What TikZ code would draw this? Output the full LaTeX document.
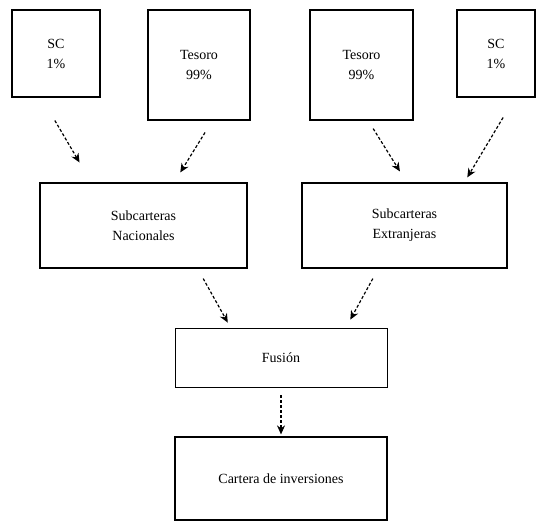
\documentclass[tikz,border=0pt]{standalone}
\usepackage{fontspec}
\setmainfont{Liberation Serif}
\usetikzlibrary{arrows.meta,calc}
\tikzset{
  caja/.style={draw, line width=1.2pt, align=center, inner sep=0pt, font=\fontsize{14}{20}\selectfont},
  flecha/.style={line width=1.2pt, densely dashed, -{Stealth[length=9pt,width=8pt]}}
}
\begin{document}
\begin{tikzpicture}[x=1pt,y=-1pt]
    \useasboundingbox (0,0) rectangle (540,521);
    % entradas
    \node [caja, minimum width=88pt, minimum height=87pt] (sc1) at (56,53.5) {SC\\1\%};
    \node [caja, minimum width=102pt, minimum height=110pt] (tes1) at (199,65) {Tesoro\\99\%};
    \node [caja, minimum width=103pt, minimum height=110pt] (tes2) at (361.5,65) {Tesoro\\99\%};
    \node [caja, minimum width=78pt, minimum height=87pt] (sc2) at (496,53.5) {SC\\1\%};
    % subcarteras
    \node [caja, minimum width=207pt, minimum height=85pt] (nac) at (143.5,225.5) {Subcarteras\\Nacionales};
    \node [caja, minimum width=205pt, minimum height=85pt] (ext) at (404.5,225.5) {Subcarteras\\Extranjeras};
    % salida
    \node [caja, line width=0.8pt, minimum width=212pt, minimum height=59pt] (fus) at (281,357.5) {Fusión};
    \node [caja, minimum width=212pt, minimum height=83pt] (cart) at (281,478.5) {Cartera de inversiones};
    \draw [flecha, shorten <=26.6pt, shorten >=23.1pt] ($(sc1.south west)!0.336!(sc1.south east)$) -- ($(nac.north west)!0.249!(nac.north east)$);
    \draw [flecha, shorten <=14pt, shorten >=11.7pt] ($(tes1.south west)!0.63!(tes1.south east)$) -- ($(nac.north west)!0.647!(nac.north east)$);
    \draw [flecha, shorten <=9.4pt, shorten >=12.9pt] ($(tes2.south west)!0.564!(tes2.south east)$) -- ($(ext.north west)!0.511!(ext.north east)$);
    \draw [flecha, shorten <=23.2pt, shorten >=5.8pt] ($(sc2.south west)!0.74!(sc2.south east)$) -- ($(ext.north west)!0.79!(ext.north east)$);
    \draw [flecha, shorten <=11.4pt, shorten >=5.7pt] ($(nac.south west)!0.76!(nac.south east)$) -- ($(fus.north west)!0.263!(fus.north east)$);
    \draw [flecha, shorten <=11.4pt, shorten >=9.1pt] ($(ext.south west)!0.373!(ext.south east)$) -- ($(fus.north west)!0.805!(fus.north east)$);
    \draw [flecha, shorten <=8pt, shorten >=2pt] (fus) -- (cart);
\end{tikzpicture}
\end{document}
